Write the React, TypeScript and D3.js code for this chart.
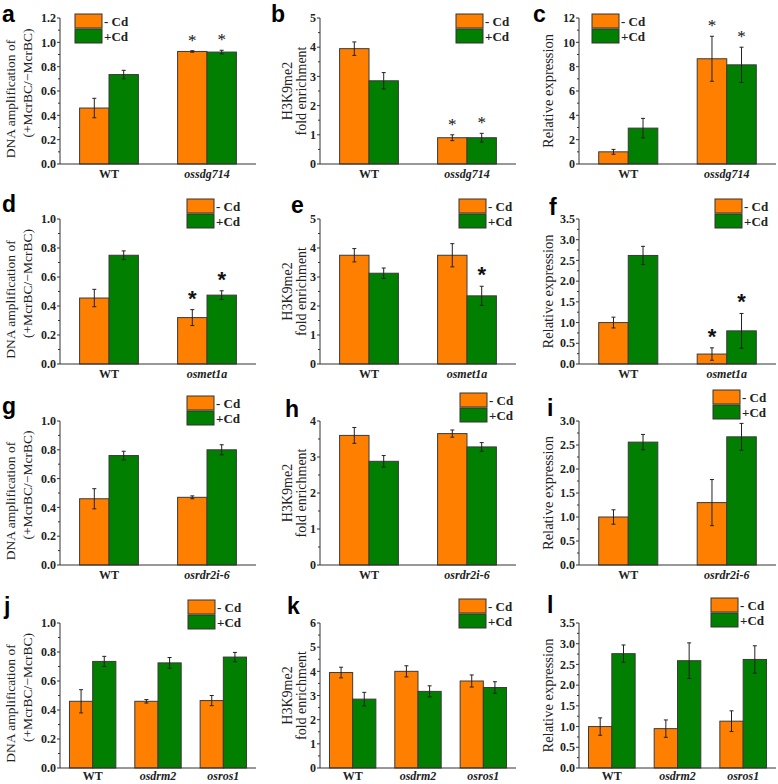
import React from "react";
import * as d3 from "d3";

const seriesLabels = ["- Cd", "+Cd"];
const seriesColors = ["#FF8000", "#007F00"];

// a
const catsA = ["WT", "ossdg714"];
const minusA = [0.46, 0.925];
const minusErrA = [0.08, 0.006];
const plusA = [0.735, 0.92];
const plusErrA = [0.035, 0.015];
const starMinusA = [false, true];
const starPlusA = [false, true];
const ticksA = [0, 0.2, 0.4, 0.6, 0.8, 1.0, 1.2];
// b
const catsB = ["WT", "ossdg714"];
const minusB = [3.95, 0.9];
const minusErrB = [0.23, 0.1];
const plusB = [2.85, 0.9];
const plusErrB = [0.28, 0.15];
const starMinusB = [false, true];
const starPlusB = [false, true];
const ticksB = [0, 1, 2, 3, 4, 5];
// c
const catsC = ["WT", "ossdg714"];
const minusC = [1.0, 8.65];
const minusErrC = [0.2, 1.85];
const plusC = [2.95, 8.15];
const plusErrC = [0.8, 1.45];
const starMinusC = [false, true];
const starPlusC = [false, true];
const ticksC = [0, 2, 4, 6, 8, 10, 12];
// d
const catsD = ["WT", "osmet1a"];
const minusD = [0.455, 0.32];
const minusErrD = [0.06, 0.055];
const plusD = [0.75, 0.475];
const plusErrD = [0.03, 0.03];
const starMinusD = [false, true];
const starPlusD = [false, true];
const ticksD = [0, 0.2, 0.4, 0.6, 0.8, 1.0];
// e
const catsE = ["WT", "osmet1a"];
const minusE = [3.75, 3.75];
const minusErrE = [0.23, 0.4];
const plusE = [3.13, 2.35];
const plusErrE = [0.18, 0.33];
const starMinusE = [false, false];
const starPlusE = [false, true];
const ticksE = [0, 1, 2, 3, 4, 5];
// f
const catsF = ["WT", "osmet1a"];
const minusF = [1.0, 0.24];
const minusErrF = [0.13, 0.15];
const plusF = [2.62, 0.8];
const plusErrF = [0.22, 0.42];
const starMinusF = [false, true];
const starPlusF = [false, true];
const ticksF = [0, 0.5, 1.0, 1.5, 2.0, 2.5, 3.0, 3.5];
// g
const catsG = ["WT", "osrdr2i-6"];
const minusG = [0.46, 0.47];
const minusErrG = [0.07, 0.01];
const plusG = [0.76, 0.8];
const plusErrG = [0.03, 0.035];
const ticksG = [0, 0.2, 0.4, 0.6, 0.8, 1.0];
// h
const catsH = ["WT", "osrdr2i-6"];
const minusH = [3.6, 3.65];
const minusErrH = [0.22, 0.1];
const plusH = [2.88, 3.28];
const plusErrH = [0.16, 0.12];
const ticksH = [0, 1, 2, 3, 4];
// i
const catsI = ["WT", "osrdr2i-6"];
const minusI = [1.0, 1.3];
const minusErrI = [0.15, 0.48];
const plusI = [2.56, 2.67];
const plusErrI = [0.16, 0.28];
const ticksI = [0, 0.5, 1.0, 1.5, 2.0, 2.5, 3.0];
// j
const catsJ = ["WT", "osdrm2", "osros1"];
const minusJ = [0.46, 0.46, 0.465];
const minusErrJ = [0.08, 0.012, 0.035];
const plusJ = [0.735, 0.725, 0.765];
const plusErrJ = [0.035, 0.037, 0.032];
const ticksJ = [0, 0.2, 0.4, 0.6, 0.8, 1.0];
// k
const catsK = ["WT", "osdrm2", "osros1"];
const minusK = [3.95, 4.0, 3.6];
const minusErrK = [0.22, 0.23, 0.25];
const plusK = [2.85, 3.17, 3.33];
const plusErrK = [0.28, 0.23, 0.24];
const ticksK = [0, 1, 2, 3, 4, 5, 6];
// l
const catsL = ["WT", "osdrm2", "osros1"];
const minusL = [1.0, 0.95, 1.13];
const minusErrL = [0.21, 0.21, 0.25];
const plusL = [2.76, 2.59, 2.62];
const plusErrL = [0.21, 0.43, 0.33];
const ticksL = [0, 0.5, 1.0, 1.5, 2.0, 2.5, 3.0, 3.5];

const titleDNA = ["DNA amplification of", "(+McrBC/\u2212McrBC)"];
const titleH3 = ["H3K9me2", "fold enrichment"];
const titleRel = ["Relative expression"];

const none2 = [false, false];
const none3 = [false, false, false];

const panels = [
  { id: "a", cats: catsA, v: [minusA, plusA], e: [minusErrA, plusErrA], s: [starMinusA, starPlusA], ticks: ticksA, fmt: ".1f", title: titleDNA, col: 0, row: 0, legend: [75, 14], big: false, letter: [2, 22] },
  { id: "b", cats: catsB, v: [minusB, plusB], e: [minusErrB, plusErrB], s: [starMinusB, starPlusB], ticks: ticksB, fmt: "d", title: titleH3, col: 1, row: 0, legend: [456, 14], big: false, letter: [271, 22] },
  { id: "c", cats: catsC, v: [minusC, plusC], e: [minusErrC, plusErrC], s: [starMinusC, starPlusC], ticks: ticksC, fmt: "d", title: titleRel, col: 2, row: 0, legend: [592, 14], big: false, letter: [533, 22] },
  { id: "d", cats: catsD, v: [minusD, plusD], e: [minusErrD, plusErrD], s: [starMinusD, starPlusD], ticks: ticksD, fmt: ".1f", title: titleDNA, col: 0, row: 1, legend: [187, 199], big: true, letter: [2, 212] },
  { id: "e", cats: catsE, v: [minusE, plusE], e: [minusErrE, plusErrE], s: [starMinusE, starPlusE], ticks: ticksE, fmt: "d", title: titleH3, col: 1, row: 1, legend: [459, 199], big: true, letter: [291, 213] },
  { id: "f", cats: catsF, v: [minusF, plusF], e: [minusErrF, plusErrF], s: [starMinusF, starPlusF], ticks: ticksF, fmt: ".1f", title: titleRel, col: 2, row: 1, legend: [715, 199], big: true, letter: [549, 215] },
  { id: "g", cats: catsG, v: [minusG, plusG], e: [minusErrG, plusErrG], s: [none2, none2], ticks: ticksG, fmt: ".1f", title: titleDNA, col: 0, row: 2, legend: [187, 396], big: false, letter: [2, 414] },
  { id: "h", cats: catsH, v: [minusH, plusH], e: [minusErrH, plusErrH], s: [none2, none2], ticks: ticksH, fmt: "d", title: titleH3, col: 1, row: 2, legend: [460, 393], big: false, letter: [285, 417] },
  { id: "i", cats: catsI, v: [minusI, plusI], e: [minusErrI, plusErrI], s: [none2, none2], ticks: ticksI, fmt: ".1f", title: titleRel, col: 2, row: 2, legend: [713, 390], big: false, letter: [547, 416] },
  { id: "j", cats: catsJ, v: [minusJ, plusJ], e: [minusErrJ, plusErrJ], s: [none3, none3], ticks: ticksJ, fmt: ".1f", title: titleDNA, col: 0, row: 3, legend: [188, 600], big: false, letter: [4, 614] },
  { id: "k", cats: catsK, v: [minusK, plusK], e: [minusErrK, plusErrK], s: [none3, none3], ticks: ticksK, fmt: "d", title: titleH3, col: 1, row: 3, legend: [459, 599], big: false, letter: [287, 614] },
  { id: "l", cats: catsL, v: [minusL, plusL], e: [minusErrL, plusErrL], s: [none3, none3], ticks: ticksL, fmt: ".1f", title: titleRel, col: 2, row: 3, legend: [711, 598], big: false, letter: [547, 613] },
];

const rowsY = [[18, 164], [219, 364], [421, 565], [623, 768]];
const colsX = [[60, 256], [320, 516], [579, 776]];

const SERIF = "'Liberation Serif', 'Times New Roman', serif";
const SANS = "'Liberation Sans', Arial, sans-serif";

function Panel({ p }: { p: any }) {
  const [top, bottom] = rowsY[p.row];
  const [left, right] = colsX[p.col];
  const maxT = p.ticks[p.ticks.length - 1];
  const y = d3.scaleLinear().domain([0, maxT]).range([bottom, top]);
  const n = p.cats.length;
  const x = d3
    .scaleBand()
    .domain(p.cats)
    .range([left, right])
    .paddingInner(n === 3 ? 0.29 : 0.4)
    .paddingOuter(n === 3 ? 0.145 : 0.2);
  const xs = d3.scaleBand().domain(["0", "1"]).range([0, x.bandwidth()]);
  const fmt = d3.format(p.fmt);
  const minor: number[] = [];
  for (let i = 0; i < p.ticks.length - 1; i++) minor.push((p.ticks[i] + p.ticks[i + 1]) / 2);
  const midY = (top + bottom) / 2;
  const labelDy = p.row === 3 ? 12 : 14;

  let titleEls: any[] = [];
  if (p.col === 0) {
    titleEls = [
      <text key="t0" transform={`translate(${left - 45},${midY + 8}) rotate(-90)`} textAnchor="middle" fontSize={13.5}>{p.title[0]}</text>,
      <text key="t1" transform={`translate(${left - 28},${midY - 8}) rotate(-90)`} textAnchor="middle" fontSize={13.5}>{p.title[1]}</text>,
    ];
  } else if (p.col === 1) {
    titleEls = [
      <text key="t0" transform={`translate(${left - 28},${midY}) rotate(-90)`} textAnchor="middle" fontSize={14}>{p.title[0]}</text>,
      <text key="t1" transform={`translate(${left - 14},${midY}) rotate(-90)`} textAnchor="middle" fontSize={14}>{p.title[1]}</text>,
    ];
  } else {
    titleEls = [
      <text key="t0" transform={`translate(${left - 26},${midY}) rotate(-90)`} textAnchor="middle" fontSize={14.5}>{p.title[0]}</text>,
    ];
  }

  return (
    <g fontFamily={SERIF} fill="#222">
      <text x={p.letter[0]} y={p.letter[1]} fontFamily={SANS} fontWeight="bold" fontSize={23} fill="#000">{p.id}</text>
      {titleEls}
      {p.cats.map((c: string, i: number) =>
        [0, 1].map((s) => {
          const v = p.v[s][i];
          const err = p.e[s][i];
          const bx = (x(c) as number) + (xs(String(s)) as number);
          const bw = xs.bandwidth();
          const cx = bx + bw / 2;
          const errTop = y(v + err);
          return (
            <g key={c + s}>
              <rect x={bx} y={y(v)} width={bw} height={bottom - y(v)} fill={seriesColors[s]} stroke="#3a3a3a" strokeWidth={1} />
              <line x1={cx} x2={cx} y1={y(v - err)} y2={errTop} stroke="#222" strokeWidth={1} />
              <line x1={cx - 2} x2={cx + 2} y1={errTop} y2={errTop} stroke="#222" strokeWidth={1} />
              <line x1={cx - 2} x2={cx + 2} y1={y(v - err)} y2={y(v - err)} stroke="#222" strokeWidth={1} />
              {p.s[s][i] &&
                (p.big ? (
                  <text x={cx} y={errTop - 4} textAnchor="middle" fontFamily={SANS} fontWeight="bold" fontSize={22} fill="#111">*</text>
                ) : (
                  <text x={cx} y={errTop - 5} textAnchor="middle" fontSize={17} fill="#111">*</text>
                ))}
            </g>
          );
        })
      )}
      <line x1={left} x2={left} y1={top} y2={bottom} stroke="#333" strokeWidth={1} />
      {p.ticks.map((t: number) => (
        <g key={"t" + t}>
          <line x1={left - 3} x2={left} y1={y(t)} y2={y(t)} stroke="#333" />
          <text x={left - 4} y={y(t)} dy="0.35em" textAnchor="end" fontWeight="bold" fontSize={12}>{fmt(t)}</text>
        </g>
      ))}
      {minor.map((t) => (
        <line key={"m" + t} x1={left - 2} x2={left} y1={y(t)} y2={y(t)} stroke="#333" />
      ))}
      <line x1={left} x2={right} y1={bottom} y2={bottom} stroke="#333" strokeWidth={1} />
      {p.cats.map((c: string, i: number) => (
        <text key={"c" + c} x={(x(c) as number) + x.bandwidth() / 2} y={bottom + labelDy} textAnchor="middle" fontWeight="bold" fontStyle={i === 0 ? "normal" : "italic"} fontSize={12}>{c}</text>
      ))}
      {seriesLabels.map((l, s) => (
        <g key={"l" + s}>
          <rect x={p.legend[0]} y={p.legend[1] + s * 15} width={27} height={14} fill={seriesColors[s]} stroke="#333" strokeWidth={1} />
          <text x={p.legend[0] + 29} y={p.legend[1] + s * 15 + 7} dy="0.35em" fontWeight="bold" fontSize={13}>{l}</text>
        </g>
      ))}
    </g>
  );
}

export default function App() {
  return (
    <svg width={778} height={784} style={{ position: "absolute", left: 0, top: 0, background: "#fff" }}>
      <rect width={778} height={784} fill="#fff" />
      {panels.map((p) => (
        <Panel key={p.id} p={p} />
      ))}
    </svg>
  );
}
